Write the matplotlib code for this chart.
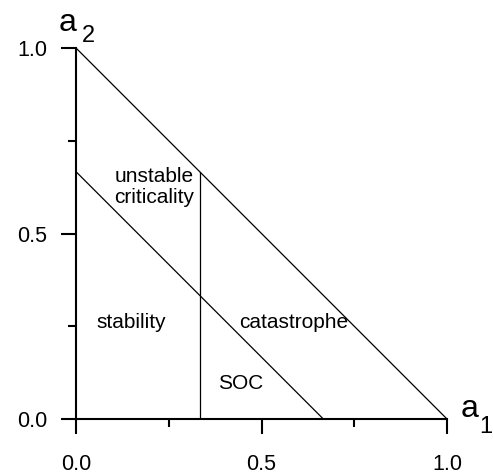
import matplotlib.pyplot as plt
from matplotlib.ticker import MultipleLocator

plt.rcParams['font.family'] = ['Liberation Sans', 'DejaVu Sans']

# boundary lines of the phase diagram
outer_x = [0.0, 1.0]
outer_y = [1.0, 0.0]
inner_x = [0.0, 2 / 3]
inner_y = [2 / 3, 0.0]
vert_x = [1 / 3, 1 / 3]
vert_y = [0.0, 2 / 3]

# region labels and where they sit
region_names = ["unstable\ncriticality", "stability", "catastrophe", "SOC"]
region_x = [0.21, 0.148, 0.588, 0.445]
region_y = [0.625, 0.26, 0.26, 0.097]

ticks = [0.0, 0.5, 1.0]
tick_labels = ["0.0", "0.5", "1.0"]

fig = plt.figure(figsize=(4.93, 4.74), dpi=100)
ax = fig.add_axes([76 / 493, 1 - 419 / 474, 371 / 493, 371 / 474])

ax.plot(outer_x, outer_y, color="black", lw=0.9)
ax.plot(inner_x, inner_y, color="black", lw=0.9)
ax.plot(vert_x, vert_y, color="black", lw=0.9)

for name, x, y in zip(region_names, region_x, region_y):
    ax.text(x, y, name, ha="center", va="center", fontsize=15, linespacing=1.1)

ax.set_xlim(0, 1)
ax.set_ylim(0, 1)
for s in ["top", "right"]:
    ax.spines[s].set_visible(False)
for s in ["left", "bottom"]:
    ax.spines[s].set_linewidth(1.5)

ax.set_xticks(ticks)
ax.set_xticklabels(tick_labels)
ax.set_yticks(ticks)
ax.set_yticklabels(tick_labels)
ax.xaxis.set_minor_locator(MultipleLocator(0.25))
ax.yaxis.set_minor_locator(MultipleLocator(0.25))
ax.tick_params(which="major", direction="out", length=10.5, width=1.5, labelsize=15.5)
ax.tick_params(which="minor", direction="out", length=5.5, width=1.5)
ax.tick_params(axis="x", which="major", pad=15)
ax.tick_params(axis="y", which="major", pad=10)

# axis names, written as "a" with a lowered index
fig.text(59 / 493, 1 - 31 / 474, "a", fontsize=23, ha="left", va="baseline")
fig.text(82 / 493, 1 - 42 / 474, "2", fontsize=17, ha="left", va="baseline")
fig.text(461 / 493, 1 - 417 / 474, "a", fontsize=23, ha="left", va="baseline")
fig.text(479 / 493, 1 - 433 / 474, "1", fontsize=17, ha="left", va="baseline")

fig.savefig("out.png", dpi=100)
